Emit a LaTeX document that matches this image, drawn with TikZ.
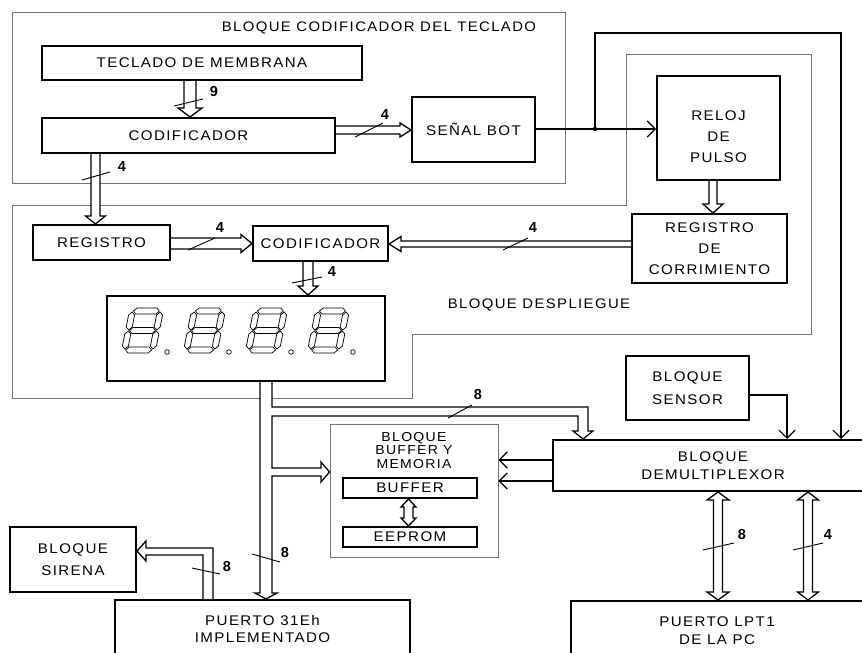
\documentclass[tikz,border=0pt]{standalone}
\usepackage{fontspec}
\setmainfont{Liberation Sans}
\newfontfamily\boxfont{Liberation Sans}[LetterSpace=10,FakeStretch=1.08]
\usetikzlibrary{calc,arrows.meta}

\newcommand{\busarrow}[5]{%
  \path (#4) coordinate (bS) (#5) coordinate (bT);
  \path ($(bT)!#3!(bS)$) coordinate (bH);
  \draw[busline] ($(bS)!#1!90:(bT)$) -- ($(bH)!#1!90:(bT)$) -- ($(bH)!#2!90:(bT)$) -- (bT)
     -- ($(bH)!#2!-90:(bT)$) -- ($(bH)!#1!-90:(bT)$) -- ($(bS)!#1!-90:(bT)$);
}
\newcommand{\busboth}[5]{%
  \path (#4) coordinate (bS) (#5) coordinate (bT);
  \path ($(bS)!#3!(bT)$) coordinate (bA) ($(bT)!#3!(bS)$) coordinate (bB);
  \draw[busline] (bS) -- ($(bA)!#2!90:(bT)$) -- ($(bA)!#1!90:(bT)$) -- ($(bB)!#1!90:(bT)$)
     -- ($(bB)!#2!90:(bT)$) -- (bT) -- ($(bB)!#2!-90:(bT)$) -- ($(bB)!#1!-90:(bT)$)
     -- ($(bA)!#1!-90:(bT)$) -- ($(bA)!#2!-90:(bT)$) -- cycle;
}

\tikzset{
  box/.style={draw, line width=2pt, rectangle, inner sep=0pt, align=center,
    font=\boxfont\fontsize{14}{21}\selectfont},
  grp/.style={draw=black!55, line width=0.9pt},
  busline/.style={draw, line width=1.3pt, fill=white, line join=miter},
  sig/.style={line width=1.3pt, -{Straight Barb[length=8pt,width=16pt,line width=1.2pt]}},
  slash/.style={line width=0.9pt},
  num/.style={font=\bfseries\fontsize{14.5}{14.5}\selectfont, inner sep=0pt},
  txt/.style={font=\boxfont\fontsize{14}{21}\selectfont, align=center, inner sep=0pt},
  seg/.style={line width=0.7pt, line join=round},
  digit/.pic={
    \begin{scope}[xslant=0.2]
      \draw[seg] (4,3)--(7,0)--(27,0)--(30,3)--(27,6)--(7,6)--cycle;
      \draw[seg] (4,22.5)--(7,19.5)--(27,19.5)--(30,22.5)--(27,25.5)--(7,25.5)--cycle;
      \draw[seg] (4,42)--(7,39)--(27,39)--(30,42)--(27,45)--(7,45)--cycle;
      \draw[seg] (3,4)--(6,7)--(6,19)--(3,22)--(0,19)--(0,7)--cycle;
      \draw[seg] (31,4)--(34,7)--(34,19)--(31,22)--(28,19)--(28,7)--cycle;
      \draw[seg] (3,23)--(6,26)--(6,38)--(3,41)--(0,38)--(0,26)--cycle;
      \draw[seg] (31,23)--(34,26)--(34,38)--(31,41)--(28,38)--(28,26)--cycle;
    \end{scope}
    \draw[seg] (37,44) circle (2.3pt);
  }
}

\begin{document}
\begin{tikzpicture}[x=1pt,y=-1pt]
\fill[white] (0,0) rectangle (862,653);
\useasboundingbox (0,0) rectangle (862,653);

% group frames
\draw[grp] (12,12) rectangle (565,183);
\draw[grp] (12,205) -- (626,205) -- (626,54) -- (811,54) -- (811,334) -- (412,334) -- (412,398) -- (12,398) -- cycle;
\node[txt, font=\boxfont\fontsize{13.8}{15}\selectfont] (tcod) at (379,28) {BLOQUE CODIFICADOR DEL TECLADO};
\node[txt, font=\boxfont\fontsize{13.8}{15}\selectfont] (tdes) at (539,305) {BLOQUE DESPLIEGUE};

% blocks
\node[box, minimum width=320pt, minimum height=34pt] (teclado) at (202,63) {TECLADO DE MEMBRANA};
\node[box, minimum width=293pt, minimum height=35pt] (cod1) at (188.5,135.5) {CODIFICADOR};
\node[box, minimum width=123pt, minimum height=65pt] (senal) at (473.5,129) {SEÑAL BOT};
\node[box, minimum width=123pt, minimum height=104pt] (reloj) at (718.5,128) {};
\node[txt] (treloj) at (718.5,137) {RELOJ\\DE\\PULSO};
\node[box, minimum width=155pt, minimum height=69pt] (corr) at (709.5,248.5) {REGISTRO\\DE\\CORRIMIENTO};
\node[box, minimum width=137pt, minimum height=35pt] (registro) at (101.5,242.5) {REGISTRO};
\node[box, minimum width=135pt, minimum height=35pt] (cod2) at (320.5,243.5) {CODIFICADOR};
\node[box, minimum width=278pt, minimum height=85pt] (display) at (246,338.5) {};
\node[box, minimum width=123pt, minimum height=64pt, font=\boxfont\fontsize{14}{23}\selectfont] (sensor) at (687.5,388) {BLOQUE\\SENSOR};
\node[box, minimum width=320pt, minimum height=51pt, font=\boxfont\fontsize{14}{18}\selectfont] (demux) at (713,465.5) {BLOQUE\\DEMULTIPLEXOR};
\node[grp, minimum width=168pt, minimum height=133pt, inner sep=0pt] (bufblock) at (414,490.5) {};
\node[txt, font=\boxfont\fontsize{13}{13.5}\selectfont] (tbuf) at (414,450.5) {BLOQUE\\BUFFER Y\\MEMORIA};
\node[box, minimum width=134pt, minimum height=20pt] (buffer) at (410,488) {BUFFER};
\node[box, minimum width=134pt, minimum height=20pt] (eeprom) at (410,537) {EEPROM};
\node[box, minimum width=126pt, minimum height=65pt, font=\boxfont\fontsize{14}{22}\selectfont] (sirena) at (73,559.5) {BLOQUE\\SIRENA};
\node[box, minimum width=295pt, minimum height=70pt] (puerto) at (262.5,635) {};
\node[txt, font=\boxfont\fontsize{14}{17}\selectfont] (tpuerto) at (262.5,628.5) {PUERTO 31Eh\\IMPLEMENTADO};
\node[box, minimum width=300pt, minimum height=70pt] (lpt) at (721,636) {};
\node[txt, font=\boxfont\fontsize{14}{18}\selectfont] (tlpt) at (717,631) {PUERTO LPT1\\DE LA PC};

% seven segment digits
\pic at (130,308) {digit};
\pic at (192,308) {digit};
\pic at (254,308) {digit};
\pic at (316,308) {digit};

% buses
\busarrow{6pt}{12pt}{9pt}{190,0 |- teclado.south}{190,0 |- cod1.north}
\busarrow{4pt}{7pt}{11pt}{cod1.east |- 0,130}{senal.west |- 0,130}
\busarrow{4.5pt}{10pt}{8pt}{95.5,0 |- cod1.south}{95.5,0 |- registro.north}
\busarrow{4pt}{10pt}{9pt}{713,0 |- reloj.south}{713,0 |- corr.north}
\busarrow{5.5pt}{9pt}{11pt}{registro.east |- 0,243.5}{cod2.west |- 0,243.5}
\busarrow{3pt}{7.5pt}{12pt}{corr.west |- 0,244}{cod2.east |- 0,244}
\busarrow{5pt}{10pt}{9pt}{308,0 |- cod2.south}{308,0 |- display.north}
\busboth{4.5pt}{11pt}{8pt}{718,0 |- demux.south}{718,0 |- lpt.north}
\busboth{4.5pt}{10.5pt}{8pt}{808,0 |- demux.south}{808,0 |- lpt.north}
\busboth{4.5pt}{7.5pt}{8pt}{408.5,0 |- buffer.south}{408.5,0 |- eeprom.north}

% display bus network
\draw[busline] (260,0 |- display.south) -- (260,593) -- (255,593) -- (266,0 |- puerto.north)
  -- (277,593) -- (272,593) -- (272,476) -- (321,476) -- (321,482) -- (bufblock.west |- 0,472)
  -- (321,462) -- (321,468) -- (272,468) -- (272,416) -- (578,416) -- (578,431) -- (573,431)
  -- (583,0 |- demux.north) -- (593,431) -- (588,431) -- (588,407) -- (272,407) -- (272,0 |- display.south);

% sirena bus
\draw[busline] (203,0 |- puerto.north) -- (203,555) -- (146,555) -- (146,561) -- (sirena.east |- 0,551)
  -- (146,541) -- (146,548) -- (213,548) -- (213,0 |- puerto.north);

% single signal lines
\coordinate (jn) at (595,0 |- senal.east);
\draw[sig] (senal.east) -- (senal.east -| reloj.west);
\fill (jn) circle (2.2pt);
\draw[sig] (jn) -- (595,33) -- (841,33) -- (841,0 |- demux.north);
\draw[sig] ($(sensor.east)+(0,7)$) -- (787,395) -- (787,0 |- demux.north);
\draw[sig] (demux.west |- 0,460) -- (bufblock.east |- 0,460);
\draw[sig] (demux.west |- 0,481) -- (bufblock.east |- 0,481);

% bus width marks
\draw[slash] (174,106) -- (203,99);   \node[num] (n9) at (214,92) {9};
\draw[slash] (355,137) -- (383,123);  \node[num] (n4a) at (385,115) {4};
\draw[slash] (82,180) -- (110,172);   \node[num] (n4b) at (122,167) {4};
\draw[slash] (188,250) -- (215,238);  \node[num] (n4c) at (220,228) {4};
\draw[slash] (292,283) -- (322,277);  \node[num] (n4d) at (332,272) {4};
\draw[slash] (503,250) -- (528,238);  \node[num] (n4e) at (533,228) {4};
\draw[slash] (448,418) -- (472,405);  \node[num] (n8a) at (478,395) {8};
\draw[slash] (252,554) -- (280,562);  \node[num] (n8b) at (285,553) {8};
\draw[slash] (192,568) -- (220,574);  \node[num] (n8c) at (227,567) {8};
\draw[slash] (703,550) -- (734,543);  \node[num] (n8d) at (742,535) {8};
\draw[slash] (793,550) -- (823,543);  \node[num] (n4f) at (828,535) {4};
\end{tikzpicture}
\end{document}
